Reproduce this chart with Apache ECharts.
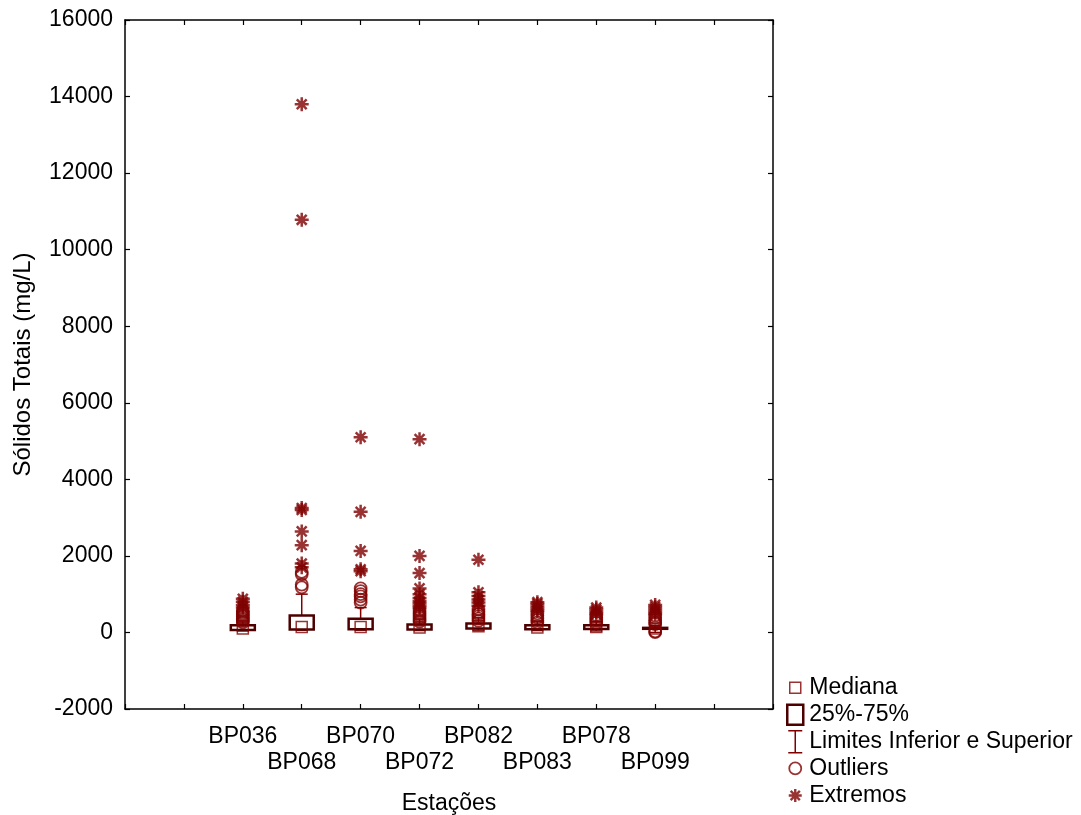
<!DOCTYPE html>
<html>
<head>
<meta charset="utf-8">
<script src="https://cdn.jsdelivr.net/npm/echarts@6/dist/echarts.min.js"></script>
<style>html,body{margin:0;padding:0;background:#fff;overflow:hidden}#c{width:1081px;height:815px}</style>
</head>
<body>
<div id="c"></div>
<script>
const stations = ['BP036','BP068','BP070','BP072','BP082','BP083','BP078','BP099'];
const lowerLimit = [40, 60, 60, 50, 60, 50, 40, 0];
const q1 = [65, 80, 85, 80, 105, 85, 90, 95];
const median = [105, 145, 145, 130, 160, 130, 140, 105];
const q3 = [190, 440, 360, 210, 235, 185, 190, 120];
const upperLimit = [300, 1000, 650, 350, 380, 300, 280, 180];
const outliers = [
  [260, 300, 340, 380, 420, 460, 500, 540, 580],
  [1180, 1250, 1520, 1580],
  [780, 860, 940, 1000, 1080, 1150],
  [280, 330, 380, 430, 480, 530, 580],
  [300, 360, 420, 480, 540, 600],
  [260, 320, 380, 440, 500],
  [250, 300, 350, 400, 450],
  [10, 30, 220, 260, 320, 380, 440]
];
const extremes = [
  [650, 720, 800, 880],
  [1700, 1800, 2280, 2640, 3200, 3250, 10780, 13800],
  [1600, 1650, 2130, 3150, 5100],
  [640, 700, 760, 820, 900, 1000, 1150, 1550, 2000, 5050],
  [700, 780, 860, 950, 1050, 1900],
  [560, 620, 680, 740, 790],
  [480, 540, 600, 650],
  [480, 540, 600, 660, 720]
];
const yTicks = {min: -2000, max: 16000, interval: 2000};

const RED = '#800000';
const DARK = '#4d0000';
const FONT = 'Liberation Sans, Arial, sans-serif';
const pos = i => i + 2;

const boxData = stations.map((s, i) => [pos(i), q1[i], q3[i]]);
const whiskerData = stations.map((s, i) => [pos(i), lowerLimit[i], q1[i], q3[i], upperLimit[i]]);
const medianData = stations.map((s, i) => [pos(i), median[i]]);
const outlierData = [];
outliers.forEach((arr, i) => arr.forEach(v => outlierData.push([pos(i), v])));
const extremeData = [];
extremes.forEach((arr, i) => arr.forEach(v => extremeData.push([pos(i), v])));

const asterisk = 'path://M0,6 L12,6 M6,0 L6,12 M1.76,1.76 L10.24,10.24 M10.24,1.76 L1.76,10.24';

const chart = echarts.init(document.getElementById('c'), null, {width: 1081, height: 815});
const axisLineStyle = {color: '#000', width: 1.5};
const tick = {show: true, inside: true, length: 5, lineStyle: {color: '#000', width: 1.2}};
chart.setOption({
  animation: false,
  grid: {left: 125, right: 308, top: 20, bottom: 106, containLabel: false, outerBoundsMode: 'none'},
  xAxis: [{
    type: 'value', min: 0, max: 11, interval: 1,
    name: 'Estações', nameLocation: 'middle', nameGap: 83,
    nameTextStyle: {fontFamily: FONT, fontSize: 23, color: '#000'},
    axisLine: {onZero: false, lineStyle: axisLineStyle},
    axisTick: tick,
    splitLine: {show: false},
    axisLabel: {
      fontFamily: FONT, fontSize: 23, color: '#000', margin: 15, lineHeight: 26,
      formatter: v => {
        const i = v - 2;
        if (i < 0 || i >= stations.length) return '';
        return (i % 2 === 0 ? '' : '\n') + stations[i];
      }
    }
  }, {
    type: 'value', min: 0, max: 11, interval: 1, position: 'top',
    axisLine: {onZero: false, lineStyle: axisLineStyle},
    axisTick: tick,
    axisLabel: {show: false}, splitLine: {show: false}
  }],
  yAxis: [{
    type: 'value', min: yTicks.min, max: yTicks.max, interval: yTicks.interval,
    name: 'Sólidos Totais (mg/L)', nameLocation: 'middle', nameGap: 90,
    nameTextStyle: {fontFamily: FONT, fontSize: 24, color: '#000'},
    axisLine: {show: true, onZero: false, lineStyle: axisLineStyle},
    axisTick: tick,
    splitLine: {show: false},
    axisLabel: {fontFamily: FONT, fontSize: 23, color: '#000', margin: 12, formatter: v => String(v)}
  }, {
    type: 'value', min: yTicks.min, max: yTicks.max, interval: yTicks.interval, position: 'right',
    axisLine: {show: true, onZero: false, lineStyle: axisLineStyle},
    axisTick: tick,
    axisLabel: {show: false}, splitLine: {show: false}
  }],
  legend: {
    orient: 'vertical', left: 785, top: 675, itemWidth: 18, itemHeight: 24, itemGap: 1,
    padding: 0, height: 140,
    selectedMode: false,
    textStyle: {fontFamily: FONT, fontSize: 23, color: '#000', lineHeight: 24},
    data: [
      {name: 'Mediana', icon: 'path://M0,0 M18,24 M3.5,6.5 L14.5,6.5 L14.5,17.5 L3.5,17.5 Z',
        itemStyle: {color: 'rgba(0,0,0,0)', borderColor: RED, borderWidth: 1.5}},
      {name: '25%-75%', icon: 'path://M0,0 M18,24 M1,2 L17,2 L17,22 L1,22 Z',
        itemStyle: {color: 'rgba(0,0,0,0)', borderColor: DARK, borderWidth: 2.5}},
      {name: 'Limites Inferior e Superior', icon: 'path://M0,0 M18,24 M2,1 L16,1 M9,1 L9,23 M2,23 L16,23',
        itemStyle: {color: 'rgba(0,0,0,0)', borderColor: RED, borderWidth: 1.5}},
      {name: 'Outliers', icon: 'path://M0,0 M18,24 M15,12 A6,6 0 1 1 3,12 A6,6 0 1 1 15,12 Z',
        itemStyle: {color: 'rgba(0,0,0,0)', borderColor: RED, borderWidth: 1.8}},
      {name: 'Extremos', icon: 'path://M0,0 M18,24 M2.5,12 L15.5,12 M9,5.5 L9,18.5 M4.4,7.4 L13.6,16.6 M13.6,7.4 L4.4,16.6',
        itemStyle: {color: 'rgba(0,0,0,0)', borderColor: RED, borderWidth: 2.4}}
    ]
  },
  series: [
    {
      name: 'Limites Inferior e Superior', type: 'custom', data: whiskerData,
      encode: {x: 0, y: [1, 2, 3, 4]},
      renderItem: (params, api) => {
        const x = api.value(0);
        const lo = api.coord([x, api.value(1)]);
        const b1 = api.coord([x, api.value(2)]);
        const b3 = api.coord([x, api.value(3)]);
        const hi = api.coord([x, api.value(4)]);
        const st = {stroke: RED, lineWidth: 1.5};
        const cw = 6;
        return {type: 'group', children: [
          {type: 'line', shape: {x1: hi[0], y1: hi[1], x2: b3[0], y2: b3[1]}, style: st},
          {type: 'line', shape: {x1: hi[0] - cw, y1: hi[1], x2: hi[0] + cw, y2: hi[1]}, style: st},
          {type: 'line', shape: {x1: lo[0], y1: lo[1], x2: b1[0], y2: b1[1]}, style: st},
          {type: 'line', shape: {x1: lo[0] - cw, y1: lo[1], x2: lo[0] + cw, y2: lo[1]}, style: st}
        ]};
      }
    },
    {
      name: '25%-75%', type: 'custom', data: boxData,
      encode: {x: 0, y: [1, 2]},
      renderItem: (params, api) => {
        const x = api.value(0);
        const a = api.coord([x, api.value(1)]);
        const b = api.coord([x, api.value(2)]);
        return {type: 'rect', shape: {x: a[0] - 12, y: b[1], width: 24, height: a[1] - b[1]},
          style: {fill: '#fff', stroke: DARK, lineWidth: 2.5}};
      }
    },
    {
      name: 'Mediana', type: 'scatter', data: medianData, symbol: 'rect', symbolSize: 11,
      itemStyle: {color: 'rgba(0,0,0,0)', borderColor: RED, borderWidth: 1.5}
    },
    {
      name: 'Outliers', type: 'scatter', data: outlierData, symbol: 'circle', symbolSize: 12,
      itemStyle: {color: 'rgba(0,0,0,0)', borderColor: RED, borderWidth: 1.8}
    },
    {
      name: 'Extremos', type: 'scatter', data: extremeData, symbol: asterisk, symbolSize: 14,
      itemStyle: {color: RED, borderColor: RED, borderWidth: 2.5}
    }
  ]
});
</script>
</body>
</html>
